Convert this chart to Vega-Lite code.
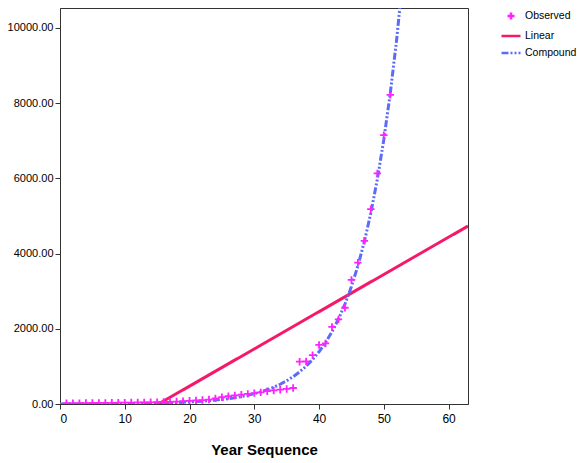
{
  "$schema": "https://vega.github.io/schema/vega-lite/v6.json",
  "autosize": {"type": "none"},
  "width": 408,
  "height": 396,
  "padding": {"left": 60, "top": 8, "right": 109, "bottom": 59},
  "background": "white",
  "config": {
    "font": "Liberation Sans",
    "view": {"stroke": "#333333", "strokeWidth": 1},
    "axis": {"domainColor": "#333333", "tickColor": "#333333", "labelColor": "#000000", "labelFontSize": 11, "tickSize": 5, "grid": false, "labelFont": "Liberation Sans"},
    "legend": {"labelFontSize": 10.5, "labelFont": "Liberation Sans", "labelColor": "#000000", "symbolSize": 361, "symbolStrokeWidth": 2.5, "rowPadding": 0, "labelOffset": 3, "padding": 0}
  },
  "datasets": {
    "obs": [
      {"x": 1, "y": 20, "series": "Observed"}, {"x": 2, "y": 22, "series": "Observed"}, {"x": 3, "y": 24, "series": "Observed"},
      {"x": 4, "y": 25, "series": "Observed"}, {"x": 5, "y": 27, "series": "Observed"}, {"x": 6, "y": 28, "series": "Observed"},
      {"x": 7, "y": 30, "series": "Observed"}, {"x": 8, "y": 32, "series": "Observed"}, {"x": 9, "y": 34, "series": "Observed"},
      {"x": 10, "y": 36, "series": "Observed"}, {"x": 11, "y": 38, "series": "Observed"}, {"x": 12, "y": 40, "series": "Observed"},
      {"x": 13, "y": 42, "series": "Observed"}, {"x": 14, "y": 45, "series": "Observed"}, {"x": 15, "y": 48, "series": "Observed"},
      {"x": 16, "y": 52, "series": "Observed"}, {"x": 17, "y": 58, "series": "Observed"}, {"x": 18, "y": 65, "series": "Observed"},
      {"x": 19, "y": 75, "series": "Observed"}, {"x": 20, "y": 85, "series": "Observed"}, {"x": 21, "y": 95, "series": "Observed"},
      {"x": 22, "y": 105, "series": "Observed"}, {"x": 23, "y": 118, "series": "Observed"}, {"x": 24, "y": 150, "series": "Observed"},
      {"x": 25, "y": 180, "series": "Observed"}, {"x": 26, "y": 210, "series": "Observed"}, {"x": 27, "y": 230, "series": "Observed"},
      {"x": 28, "y": 250, "series": "Observed"}, {"x": 29, "y": 270, "series": "Observed"}, {"x": 30, "y": 290, "series": "Observed"},
      {"x": 31, "y": 310, "series": "Observed"}, {"x": 32, "y": 340, "series": "Observed"}, {"x": 33, "y": 360, "series": "Observed"},
      {"x": 34, "y": 380, "series": "Observed"}, {"x": 35, "y": 400, "series": "Observed"}, {"x": 36, "y": 425, "series": "Observed"},
      {"x": 37, "y": 1125, "series": "Observed"}, {"x": 38, "y": 1130, "series": "Observed"}, {"x": 39, "y": 1300, "series": "Observed"},
      {"x": 40, "y": 1570, "series": "Observed"}, {"x": 41, "y": 1610, "series": "Observed"}, {"x": 42, "y": 2050, "series": "Observed"},
      {"x": 43, "y": 2250, "series": "Observed"}, {"x": 44, "y": 2560, "series": "Observed"}, {"x": 45, "y": 3300, "series": "Observed"},
      {"x": 46, "y": 3760, "series": "Observed"}, {"x": 47, "y": 4340, "series": "Observed"}, {"x": 48, "y": 5180, "series": "Observed"},
      {"x": 49, "y": 6130, "series": "Observed"}, {"x": 50, "y": 7150, "series": "Observed"}, {"x": 51, "y": 8220, "series": "Observed"}
    ],
    "lin": [
      {"x": 0, "y": -1505, "series": "Linear"},
      {"x": 63, "y": 4732, "series": "Linear"}
    ],
    "comp": [
      {"x": 0, "y": 2.12, "series": "Compound"}, {"x": 2, "y": 2.93, "series": "Compound"}, {"x": 4, "y": 4.06, "series": "Compound"},
      {"x": 6, "y": 5.61, "series": "Compound"}, {"x": 8, "y": 7.76, "series": "Compound"}, {"x": 10, "y": 10.7, "series": "Compound"},
      {"x": 12, "y": 14.8, "series": "Compound"}, {"x": 14, "y": 20.5, "series": "Compound"}, {"x": 16, "y": 28.4, "series": "Compound"},
      {"x": 18, "y": 39.2, "series": "Compound"}, {"x": 20, "y": 54.3, "series": "Compound"}, {"x": 21, "y": 63.8, "series": "Compound"},
      {"x": 22, "y": 75.0, "series": "Compound"}, {"x": 23, "y": 88.3, "series": "Compound"}, {"x": 24, "y": 103.8, "series": "Compound"},
      {"x": 25, "y": 122, "series": "Compound"}, {"x": 26, "y": 143.5, "series": "Compound"}, {"x": 27, "y": 168.8, "series": "Compound"},
      {"x": 28, "y": 198.5, "series": "Compound"}, {"x": 29, "y": 233.4, "series": "Compound"}, {"x": 30, "y": 274.5, "series": "Compound"},
      {"x": 31, "y": 322.8, "series": "Compound"}, {"x": 32, "y": 379.6, "series": "Compound"}, {"x": 33, "y": 446.5, "series": "Compound"},
      {"x": 34, "y": 525, "series": "Compound"}, {"x": 35, "y": 617, "series": "Compound"}, {"x": 36, "y": 726, "series": "Compound"},
      {"x": 37, "y": 854, "series": "Compound"}, {"x": 38, "y": 1004, "series": "Compound"}, {"x": 39, "y": 1181, "series": "Compound"},
      {"x": 40, "y": 1389, "series": "Compound"}, {"x": 41, "y": 1633, "series": "Compound"}, {"x": 42, "y": 1921, "series": "Compound"},
      {"x": 43, "y": 2259, "series": "Compound"}, {"x": 44, "y": 2657, "series": "Compound"}, {"x": 45, "y": 3124, "series": "Compound"},
      {"x": 46, "y": 3674, "series": "Compound"}, {"x": 47, "y": 4321, "series": "Compound"}, {"x": 48, "y": 5081, "series": "Compound"},
      {"x": 49, "y": 5976, "series": "Compound"}, {"x": 50, "y": 7028, "series": "Compound"}, {"x": 51, "y": 8265, "series": "Compound"},
      {"x": 52, "y": 9720, "series": "Compound"}, {"x": 53, "y": 11430, "series": "Compound"}, {"x": 54, "y": 13442, "series": "Compound"}
    ]
  },
  "encoding": {
    "x": {"field": "x", "type": "quantitative", "scale": {"domain": [0, 63], "nice": false, "zero": false},
      "axis": {"values": [0, 10, 20, 30, 40, 50, 60], "title": "Year Sequence", "titleFontSize": 15, "titleFontWeight": "bold", "titleColor": "#000000", "titlePadding": 18, "labelPadding": 4, "labelFontSize": 12}},
    "y": {"field": "y", "type": "quantitative", "scale": {"domain": [0, 10530], "nice": false},
      "axis": {"values": [0, 2000, 4000, 6000, 8000, 10000], "format": ".2f", "title": null, "labelPadding": 2}},
    "color": {"field": "series", "type": "nominal",
      "scale": {"domain": ["Observed", "Linear", "Compound"], "range": ["#ff22ff", "#f5196a", "#5c6cf7"]},
      "legend": {"title": null, "orient": "none", "legendX": 440, "legendY": -3}}
  },
  "layer": [
    {
      "data": {"name": "lin"},
      "mark": {"type": "line", "clip": true, "strokeWidth": 3},
      "encoding": {
        "strokeDash": {"field": "series", "type": "nominal",
          "scale": {"domain": ["Observed", "Linear", "Compound"], "range": [[1, 0], [1, 0], [7, 2, 2, 2, 2, 2]]},
          "legend": {"title": null, "orient": "none", "legendX": 440, "legendY": -3}}
      }
    },
    {
      "data": {"name": "comp"},
      "mark": {"type": "line", "clip": true, "strokeWidth": 3},
      "encoding": {
        "strokeDash": {"field": "series", "type": "nominal",
          "scale": {"domain": ["Observed", "Linear", "Compound"], "range": [[1, 0], [1, 0], [7, 2, 2, 2, 2, 2]]},
          "legend": {"title": null, "orient": "none", "legendX": 440, "legendY": -3}}
      }
    },
    {
      "data": {"name": "obs"},
      "mark": {"type": "point", "filled": false, "size": 400, "strokeWidth": 1.8, "opacity": 1, "clip": true},
      "encoding": {
        "shape": {"field": "series", "type": "nominal",
          "scale": {"domain": ["Observed", "Linear", "Compound"], "range": ["M-0.37,0L0.37,0M0,-0.37L0,0.37", "stroke", "stroke"]},
          "legend": {"title": null, "orient": "none", "legendX": 440, "legendY": -3}}
      }
    }
  ]
}
